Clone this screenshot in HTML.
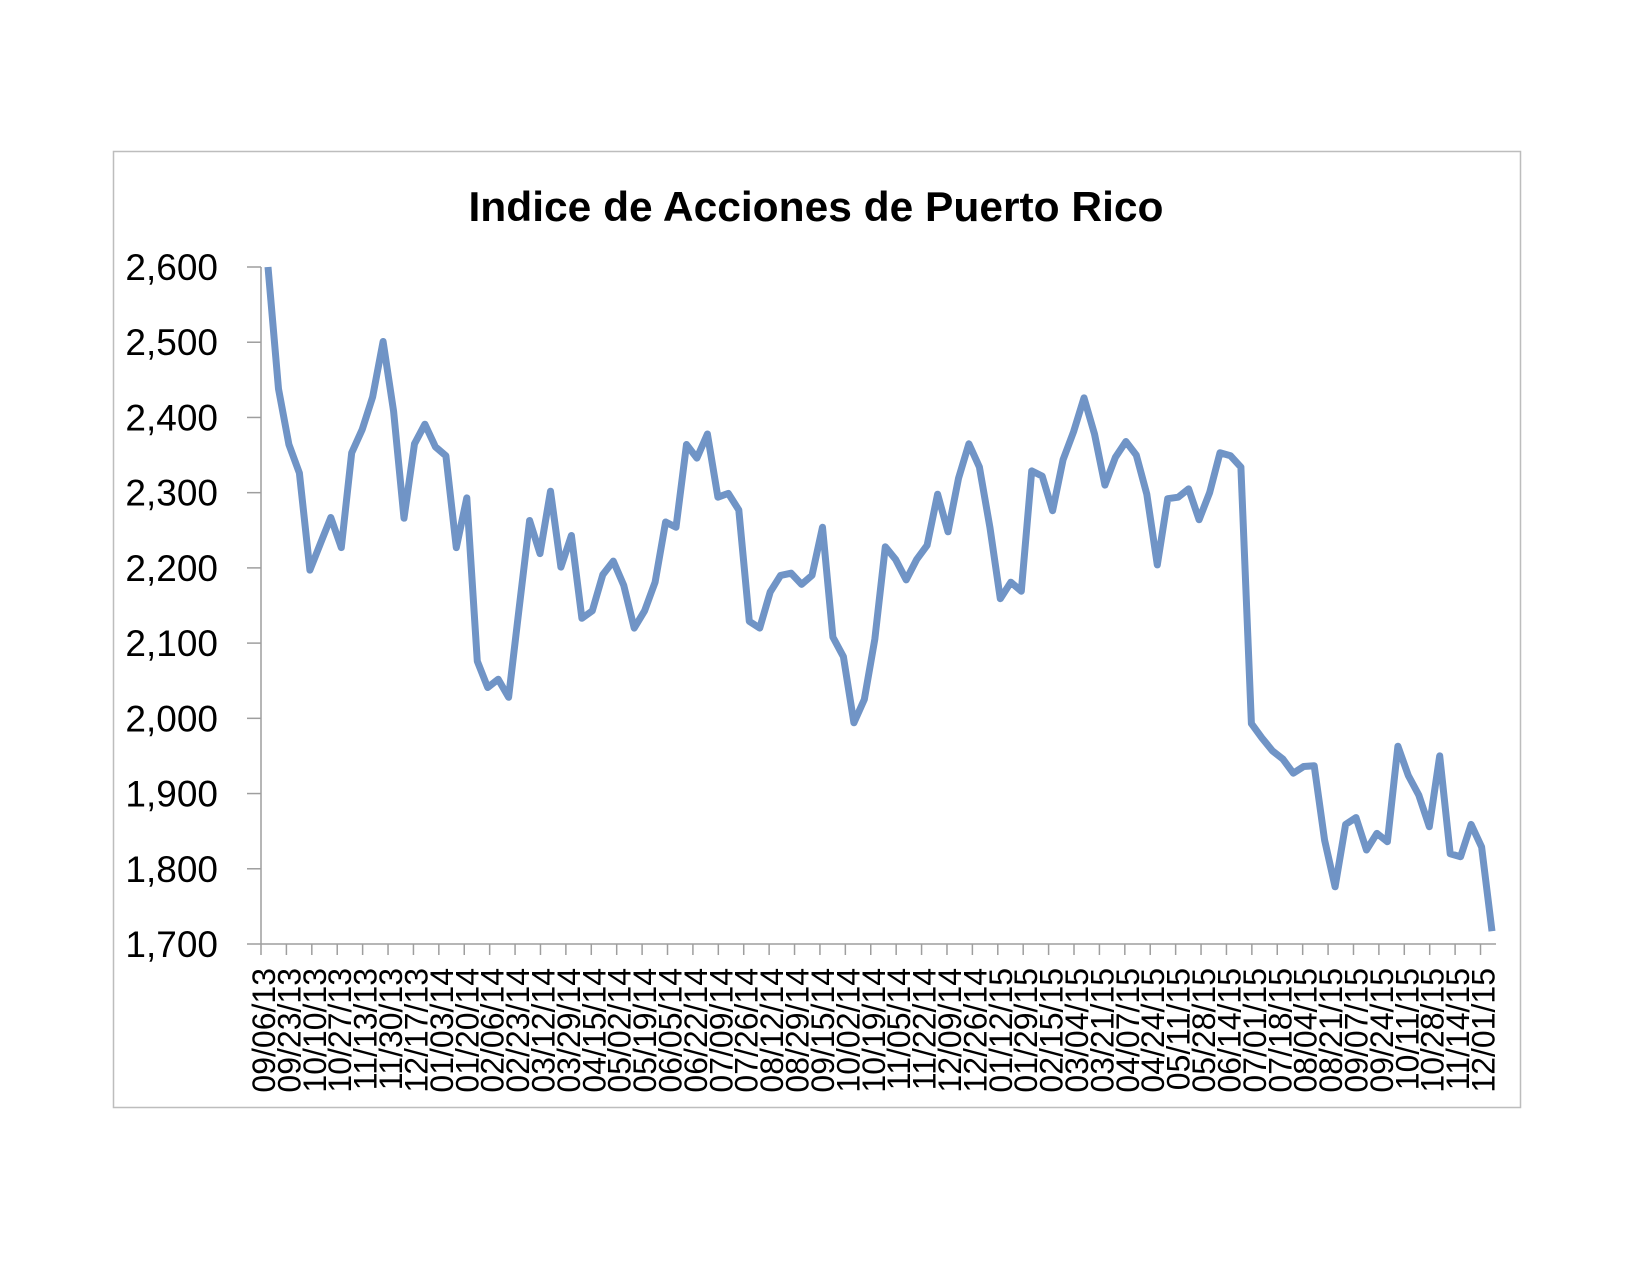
<!DOCTYPE html>
<html><head><meta charset="utf-8"><style>
html,body{margin:0;padding:0;background:#fff;}
svg{display:block;}
text{font-family:"Liberation Sans",sans-serif;fill:#000;}
</style></head><body>
<svg id="chart" width="1650" height="1275" viewBox="0 0 1650 1275" xmlns="http://www.w3.org/2000/svg">
<rect x="113.5" y="151.5" width="1407" height="956" fill="#fff" stroke="#bdbdbd" stroke-width="1.5"/>
<text x="816" y="221" text-anchor="middle" font-weight="bold" font-size="42" textLength="695" lengthAdjust="spacingAndGlyphs">Indice de Acciones de Puerto Rico</text>
<g id="yaxis"></g>
<g id="xaxis"></g>
<g id="series"></g>
</svg>
<script>
const yTicks = [1700,1800,1900,2000,2100,2200,2300,2400,2500,2600];
const xTickLabels = ["09/06/13","09/23/13","10/10/13","10/27/13","11/13/13","11/30/13","12/17/13","01/03/14","01/20/14","02/06/14","02/23/14","03/12/14","03/29/14","04/15/14","05/02/14","05/19/14","06/05/14","06/22/14","07/09/14","07/26/14","08/12/14","08/29/14","09/15/14","10/02/14","10/19/14","11/05/14","11/22/14","12/09/14","12/26/14","01/12/15","01/29/15","02/15/15","03/04/15","03/21/15","04/07/15","04/24/15","05/11/15","05/28/15","06/14/15","07/01/15","07/18/15","08/04/15","08/21/15","09/07/15","09/24/15","10/11/15","10/28/15","11/14/15","12/01/15"];
const indexValues = [2600,2438,2364,2326,2197,2232,2267,2227,2353,2384,2427,2501,2408,2266,2365,2391,2361,2349,2227,2293,2076,2041,2052,2028,
2146,2263,2219,2302,2201,2243,2133,2143,2191,2209,2177,2120,2143,2181,2261,2254,2364,2346,2378,2294,2299,2277,2129,
2120,2168,2190,2193,2178,2190,2254,2108,2082,1994,2025,2105,2228,2211,2184,2211,2230,2298,2248,2319,2365,2334,2254,2159,
2181,2169,2329,2322,2276,2344,2381,2426,2378,2310,2347,2368,2350,2298,2204,2292,2294,2305,2264,2300,2353,2349,2334,
1993,1974,1957,1946,1927,1936,1937,1838,1776,1859,1868,1825,1847,1836,1963,1924,1898,1856,1950,1820,1816,1859,1829,1717];

const NS="http://www.w3.org/2000/svg";
const X0=261, PX_PER_DAY=1.4945, Y_TOP=267, Y_BOT=944, VMIN=1700, VMAX=2600;
function yScale(v){return Y_BOT-(v-VMIN)/(VMAX-VMIN)*(Y_BOT-Y_TOP);}
function xDay(d){return X0+d*PX_PER_DAY;}
function mk(tag,attrs,parent){const e=document.createElementNS(NS,tag);for(const k in attrs)e.setAttribute(k,attrs[k]);parent.appendChild(e);return e;}

const yg=document.getElementById('yaxis');
const ax=mk('line',{x1:X0,y1:Y_TOP,x2:X0,y2:Y_BOT,stroke:'#9e9e9e','stroke-width':1.5},yg);


yTicks.forEach(v=>{
  const y=yScale(v);
  const t=mk('line',{x1:247,y1:y,x2:X0,y2:y,stroke:'#9e9e9e','stroke-width':1.5},yg);
  
  
  const l=mk('text',{x:218,y:y+13,'text-anchor':'end','font-size':37},yg);
  
  
  l.textContent=v.toLocaleString('en-US');
});

const xg=document.getElementById('xaxis');
const lastX=xDay(7*(indexValues.length-1)+4.7)+4;
const xl=mk('line',{x1:X0,y1:Y_BOT,x2:lastX,y2:Y_BOT,stroke:'#9e9e9e','stroke-width':1.5},xg);


xTickLabels.forEach((s,k)=>{
  const x=xDay(17*k);
  const t=mk('line',{x1:x,y1:Y_BOT,x2:x,y2:Y_BOT+11,stroke:'#9e9e9e','stroke-width':1.5},xg);
  
  
  const bx=x+14, by=968;
  const l=mk('text',{x:bx,y:by,'text-anchor':'end','font-size':32,transform:`rotate(-90 ${bx} ${by})`},xg);
  
  
  l.textContent=s;
});

const sg=document.getElementById('series');
const pts=indexValues.map((v,i)=>xDay(7*i+4.7).toFixed(1)+','+yScale(v).toFixed(1)).join(' ');
const pl=mk('polyline',{points:pts,fill:'none',stroke:'#7094c6','stroke-width':7,'stroke-linejoin':'round','stroke-linecap':'butt'},sg);


</script>
</body></html>
